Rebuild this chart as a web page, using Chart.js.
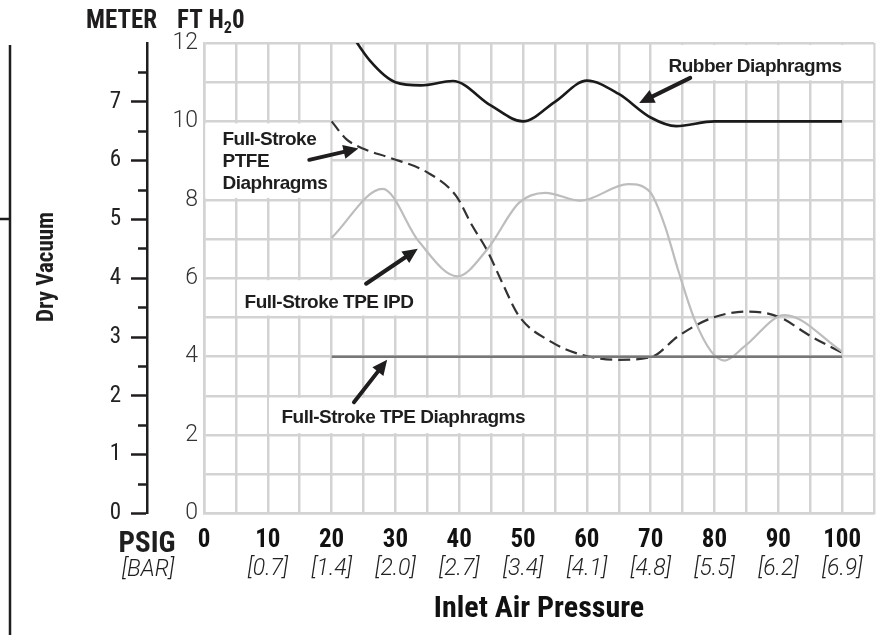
<!DOCTYPE html>
<html>
<head>
<meta charset="utf-8">
<script src="https://cdn.jsdelivr.net/npm/chart.js@4.4.1/dist/chart.umd.min.js"></script>
<style>
html, body { margin: 0; padding: 0; background: #fff; }
#wrap { width: 886px; height: 635px; position: relative; }
</style>
</head>
<body>
<div id="wrap"><canvas id="chart"></canvas></div>
<script>
// ----------- Data -----------
const barLabels = ["", "[0.7]", "[1.4]", "[2.0]", "[2.7]", "[3.4]", "[4.1]", "[4.8]", "[5.5]", "[6.2]", "[6.9]"];

const rubberPsi = [22, 26, 30, 34, 39, 45, 50, 55, 60, 65, 70, 74, 80, 100];
const rubberFt  = [12.5, 11.55, 11.0, 10.92, 11.03, 10.4, 10.0, 10.5, 11.04, 10.7, 10.1, 9.88, 10.0, 10.0];

const ptfePsi = [20, 22.3, 25, 29, 35, 39.5, 42, 44.4, 46.7, 49.3, 54.5, 58.7, 65, 70.2, 74.3, 79.5, 85, 90, 95.2, 100];
const ptfeFt  = [10.0, 9.55, 9.3, 9.08, 8.7, 8.1, 7.35, 6.7, 5.9, 5.05, 4.37, 4.07, 3.92, 4.0, 4.52, 4.98, 5.15, 5.02, 4.51, 4.1];

const ipdPsi = [20, 28, 33.7, 39.7, 44.4, 49.4, 53.5, 59, 66.5, 69.9, 72.2, 74.3, 76.9, 79.5, 81.6, 84.7, 91, 100];
const ipdFt  = [7.03, 8.28, 6.93, 6.05, 6.74, 7.93, 8.18, 7.98, 8.4, 8.2, 7.35, 6.21, 4.94, 4.13, 3.9, 4.26, 5.06, 4.13];

const tpePsi = [20, 100];
const tpeFt  = [4, 4];

// ----------- Style -----------
const NARROW = "'Roboto Condensed', 'Archivo Narrow', 'DejaVu Sans Condensed', sans-serif";
const SANS = "'Liberation Sans', Arial, sans-serif";
const LIGHT = "Roboto, 'Liberation Sans', sans-serif";
const ink = "#1f1d1e";
const gridColor = "#d3d3d3";

const pts = (xs, ys) => xs.map((x, i) => ({x: x, y: ys[i]}));

// notes: text placed in data units, box in data units, arrow tail -> tip
const notes = [
    {lines: ["Rubber Diaphragms"], x: 72.8, y: 11.26, box: [70.2, 104.9, 11.95, 11.05], arrow: [76.2, 11.11, 68.2, 10.47]},
    {lines: ["Full-Stroke", "PTFE", "Diaphragms"], x: 2.9, y: 9.40, box: [0.2, 19.8, 9.95, 8.05], arrow: [16.5, 9.02, 24.2, 9.31]},
    {lines: ["Full-Stroke TPE IPD"], x: 6.36, y: 5.23, box: [5.2, 34.8, 5.95, 5.05], arrow: [25.4, 5.86, 33.5, 6.75]},
    {lines: ["Full-Stroke TPE Diaphragms"], x: 12.14, y: 2.31, box: [10.2, 54.8, 2.95, 2.05], arrow: [23.5, 2.84, 28.7, 3.92]}
];

function arrow(ctx, x1, y1, x2, y2) {
    const a = Math.atan2(y2 - y1, x2 - x1);
    const hl = 15, hw = 7;
    const bx = x2 - hl * Math.cos(a), by = y2 - hl * Math.sin(a);
    ctx.beginPath();
    ctx.moveTo(x1, y1);
    ctx.lineTo(bx, by);
    ctx.lineWidth = 4;
    ctx.lineCap = "round";
    ctx.strokeStyle = ink;
    ctx.stroke();
    ctx.beginPath();
    ctx.moveTo(x2, y2);
    ctx.lineTo(bx + hw * Math.sin(a), by - hw * Math.cos(a));
    ctx.lineTo(bx - hw * Math.sin(a), by + hw * Math.cos(a));
    ctx.closePath();
    ctx.fillStyle = ink;
    ctx.fill();
}

const decor = {
    id: "decor",
    beforeDatasetsDraw(chart) {
        const ctx = chart.ctx, xs = chart.scales.x, ys = chart.scales.y;
        ctx.save();
        ctx.font = "bold 19px " + SANS;
        ctx.letterSpacing = "-0.5px";
        notes.forEach(n => {
            const bx1 = xs.getPixelForValue(n.box[0]), bx2 = xs.getPixelForValue(n.box[1]);
            const by1 = ys.getPixelForValue(n.box[2]), by2 = ys.getPixelForValue(n.box[3]);
            ctx.fillStyle = "#fff";
            ctx.fillRect(bx1, by1, bx2 - bx1, by2 - by1);
            ctx.fillStyle = ink;
            ctx.textBaseline = "alphabetic";
            n.lines.forEach((t, i) => {
                ctx.fillText(t, xs.getPixelForValue(n.x), ys.getPixelForValue(n.y) + i * 22);
            });
        });
        ctx.restore();
    },
    afterDatasetsDraw(chart) {
        const ctx = chart.ctx, xs = chart.scales.x, ys = chart.scales.y, ms = chart.scales.m;
        const area = chart.chartArea;
        ctx.save();
        notes.forEach(n => {
            arrow(ctx, xs.getPixelForValue(n.arrow[0]), ys.getPixelForValue(n.arrow[1]),
                       xs.getPixelForValue(n.arrow[2]), ys.getPixelForValue(n.arrow[3]));
        });

        // left bracket line
        ctx.strokeStyle = ink;
        ctx.lineWidth = 2.5;
        ctx.lineCap = "butt";
        ctx.beginPath();
        ctx.moveTo(10, area.top + 2);
        ctx.lineTo(10, chart.height);
        ctx.moveTo(0, 219);
        ctx.lineTo(10, 219);
        ctx.stroke();

        // Dry Vacuum
        ctx.fillStyle = ink;
        ctx.font = "bold 23px " + NARROW;
        ctx.save();
        ctx.translate(53, 267);
        ctx.rotate(-Math.PI / 2);
        ctx.textAlign = "center";
        ctx.textBaseline = "alphabetic";
        ctx.fillText("Dry Vacuum", 0, 0);
        ctx.restore();

        // header
        ctx.font = "bold 25px " + NARROW;
        ctx.textAlign = "left";
        const hy = area.top - 15;
        ctx.fillText("METER", 86, hy);
        let hx = 177;
        ctx.fillText("FT H", hx, hy);
        hx += ctx.measureText("FT H").width;
        ctx.font = "bold 16px " + NARROW;
        ctx.fillText("2", hx, hy + 5);
        hx += ctx.measureText("2").width;
        ctx.font = "bold 25px " + NARROW;
        ctx.fillText("0", hx, hy);

        // PSIG / BAR
        ctx.textAlign = "center";
        ctx.font = "bold 29px " + NARROW;
        ctx.fillText("PSIG", ms.right, area.bottom + 38.5);
        ctx.font = "italic 300 23px " + LIGHT;
        ctx.fillText("[BAR]", ms.right + 1, area.bottom + 62);
        ctx.restore();
    }
};

new Chart(document.getElementById("chart"), {
    type: "line",
    data: {
        datasets: [
            {label: "Full-Stroke TPE Diaphragms", data: pts(tpePsi, tpeFt), borderColor: "#777777", borderWidth: 2.5},
            {label: "Full-Stroke TPE IPD", data: pts(ipdPsi, ipdFt), borderColor: "#bdbdbd", borderWidth: 2.2},
            {label: "Full-Stroke PTFE Diaphragms", data: pts(ptfePsi, ptfeFt), borderColor: "#333333", borderWidth: 2.2, borderDash: [12, 6]},
            {label: "Rubber Diaphragms", data: pts(rubberPsi, rubberFt), borderColor: "#1a1a1a", borderWidth: 2.6}
        ]
    },
    options: {
        responsive: true,
        maintainAspectRatio: false,
        animation: false,
        layout: {padding: {top: 43, right: 9.7, bottom: 5.5, left: 0}},
        elements: {
            point: {radius: 0},
            line: {cubicInterpolationMode: "monotone", fill: false}
        },
        plugins: {legend: {display: false}, tooltip: {enabled: false}},
        scales: {
            x: {
                type: "linear", position: "bottom", min: 0, max: 105,
                grid: {color: gridColor, lineWidth: 2.5, drawTicks: false},
                border: {color: gridColor, width: 2.5},
                ticks: {
                    stepSize: 5, autoSkip: false, maxRotation: 0, padding: 12,
                    color: "#111",
                    font: {family: NARROW, size: 25, weight: "bold"},
                    callback: v => (v % 10 === 0 && v <= 100) ? String(v) : ""
                },
                afterFit: s => { s.height = 34; }
            },
            x2: {
                type: "linear", position: "bottom", min: 0, max: 105,
                grid: {display: false},
                border: {display: false},
                ticks: {
                    stepSize: 5, autoSkip: false, maxRotation: 0, padding: 0,
                    color: "#222",
                    font: {family: LIGHT, size: 23, style: "italic", weight: 300},
                    callback: v => (v % 10 === 0 && v <= 100) ? barLabels[v / 10] : ""
                },
                title: {
                    display: true, text: "Inlet Air Pressure", color: "#111",
                    font: {family: NARROW, size: 30, weight: "bold"},
                    padding: {top: 4, bottom: 2}
                },
                afterFit: s => { s.height = 82; }
            },
            y: {
                type: "linear", position: "left", min: 0, max: 12,
                grid: {color: gridColor, lineWidth: 2.5, drawTicks: false},
                border: {color: gridColor, width: 2.5},
                ticks: {
                    stepSize: 1, autoSkip: false, padding: 6,
                    color: "#333",
                    font: {family: LIGHT, size: 23, weight: 300},
                    callback: v => v % 2 === 0 ? String(v) : ""
                },
                afterFit: s => { s.width = 57; }
            },
            m: {
                type: "linear", position: "left", weight: 1, min: 0, max: 8,
                grid: {
                    drawOnChartArea: false, drawTicks: true, tickLength: 16, tickWidth: 2.5,
                    tickColor: c => c.tick && c.tick.value >= 8 ? "rgba(0,0,0,0)" : ink,
                    tickBorderDash: c => c.tick && Number.isInteger(c.tick.value) ? [] : [0, 7, 20, 0]
                },
                border: {color: ink, width: 2.5},
                ticks: {
                    stepSize: 0.5, autoSkip: false, padding: 10,
                    color: "#222",
                    font: {family: NARROW, size: 23},
                    callback: v => (Number.isInteger(v) && v < 8) ? String(v) : ""
                },
                afterFit: s => { s.width = 147; }
            }
        }
    },
    plugins: [decor]
});
</script>
</body>
</html>
